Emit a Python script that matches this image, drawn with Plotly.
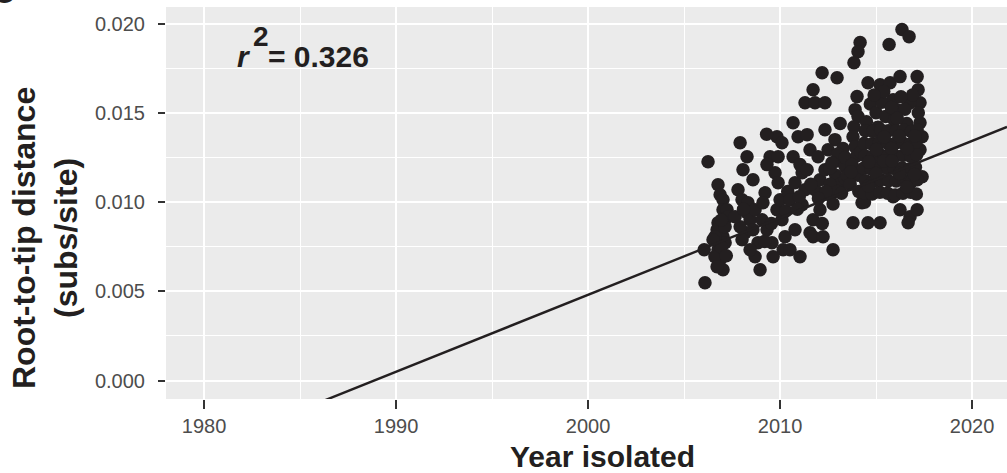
import plotly.graph_objects as go

# ---------------- data ----------------
year_isolated = [
    # 2006-2007 cluster
    2006.09, 2006.05, 2006.25, 2006.77, 2006.88, 2007.03, 2007.03, 2007.24, 2007.29, 2006.77,
    2006.72, 2007.03, 2007.14, 2006.77, 2006.88, 2007.03, 2006.61, 2006.61, 2006.93, 2006.72,
    2007.14, 2006.51, 2006.95, 2007.20,
    # 2008 cluster
    2007.92, 2008.28, 2008.07, 2008.59, 2007.81, 2008.02, 2008.33, 2008.28, 2008.44, 2008.18,
    2008.70, 2008.85, 2008.70, 2008.96, 2007.92, 2008.02, 2008.59, 2007.66, 2008.44, 2008.10,
    # 2009-2010 cluster
    2009.22, 2009.11, 2009.06, 2009.32, 2009.64, 2009.84, 2010.10, 2009.48, 2009.74, 2009.90,
    2009.84, 2010.10, 2010.26, 2010.16, 2009.32, 2009.30, 2009.90, 2010.52, 2009.58, 2010.00,
    2009.55, 2010.30, 2009.20, 2010.40,
    # 2010.5-2013.4
    2010.68, 2010.94, 2011.41, 2010.68, 2010.78, 2011.15, 2011.30, 2010.78, 2011.04, 2011.56,
    2011.30, 2011.72, 2011.82, 2012.34, 2012.19, 2012.97, 2011.72, 2012.24, 2011.72, 2012.08,
    2012.76, 2011.56, 2011.15, 2010.52, 2011.04, 2011.41, 2011.82, 2012.08, 2012.34, 2011.98,
    2012.34, 2012.86, 2012.50, 2012.60, 2012.90, 2012.97, 2012.76, 2013.13, 2013.28, 2013.39,
    2013.13, 2012.20, 2012.60, 2013.00, 2013.40, 2012.60, 2013.00, 2013.40, 2013.20, 2012.40,
    2011.60, 2011.00, 2010.90, 2012.00, 2012.70, 2013.50,
    # 2014 stripe
    2014.17, 2014.06, 2013.85, 2014.01, 2013.91, 2014.06, 2013.85, 2013.80, 2013.91, 2014.00,
    2013.75, 2014.06, 2013.65, 2014.27, 2013.80, 2014.58, 2014.10, 2013.70, 2014.20,
    # 2014.5-2017.5 upper / outer
    2015.68, 2016.35, 2016.72, 2014.58, 2015.21, 2015.73, 2016.25, 2017.14, 2017.19, 2017.29,
    2015.89, 2016.09, 2016.77, 2017.29, 2017.40, 2017.29, 2017.40, 2015.21, 2015.89, 2016.25,
    2016.77, 2017.14, 2016.67, 2014.50, 2014.70, 2015.00, 2015.30, 2015.50, 2016.50, 2016.90,
    2015.95, 2016.30, 2015.40, 2014.90, 2017.20, 2016.60, 2015.10, 2015.80, 2016.10, 2014.40,
    # dense core 2014.4-2017.1
    2014.40, 2014.80, 2015.20, 2015.60, 2016.00, 2016.40, 2016.80, 2017.10,
    2014.45, 2014.85, 2015.25, 2015.65, 2016.05, 2016.45, 2016.85, 2017.15,
    2014.35, 2014.75, 2015.15, 2015.55, 2015.95, 2016.35, 2016.75, 2017.05,
    2014.42, 2014.82, 2015.22, 2015.62, 2016.02, 2016.42, 2016.82, 2017.12,
    2014.38, 2014.78, 2015.18, 2015.58, 2015.98, 2016.38, 2016.78, 2017.08,
    2014.44, 2014.84, 2015.24, 2015.64, 2016.04, 2016.44, 2016.84, 2017.14,
    2014.60, 2015.00, 2015.40, 2015.80, 2016.20, 2016.60, 2017.00,
    2014.62, 2015.02, 2015.42, 2015.82, 2016.22, 2016.62, 2017.02,
]

root_to_tip = [
    # 2006-2007 cluster
    0.00548, 0.00733, 0.01226, 0.01097, 0.01041, 0.01013, 0.00957, 0.00957, 0.00918, 0.00884,
    0.00845, 0.00806, 0.00772, 0.00733, 0.00677, 0.00621, 0.00806, 0.00694, 0.00749, 0.00638,
    0.00862, 0.00789, 0.00900, 0.00700,
    # 2008 cluster
    0.01333, 0.01254, 0.01181, 0.01125, 0.01069, 0.01013, 0.00996, 0.00940, 0.00901, 0.00828,
    0.00957, 0.00772, 0.00694, 0.00621, 0.00862, 0.00789, 0.00845, 0.00918, 0.00733, 0.00960,
    # 2009-2010 cluster
    0.01052, 0.00996, 0.00901, 0.00845, 0.00694, 0.01366, 0.01333, 0.01254, 0.01165, 0.01109,
    0.00957, 0.00901, 0.00806, 0.00733, 0.01210, 0.01380, 0.01254, 0.00733, 0.00772, 0.01013,
    0.00880, 0.00950, 0.00780, 0.01060,
    # 2010.5-2013.4
    0.01445, 0.01366, 0.01378, 0.01254, 0.01109, 0.01165, 0.01069, 0.00845, 0.00694, 0.00828,
    0.01557, 0.01630, 0.01557, 0.01557, 0.01725, 0.01697, 0.00806, 0.00806, 0.00901, 0.00957,
    0.00733, 0.01293, 0.00985, 0.01013, 0.01210, 0.01181, 0.01069, 0.01125, 0.01181, 0.01254,
    0.01405, 0.01350, 0.01293, 0.01040, 0.01150, 0.01230, 0.00990, 0.01100, 0.01300, 0.01200,
    0.01440, 0.00880, 0.01100, 0.01060, 0.01130, 0.01190, 0.01270, 0.01250, 0.01050, 0.01060,
    0.01100, 0.01030, 0.00960, 0.01020, 0.01220, 0.01150,
    # 2014 stripe
    0.01894, 0.01843, 0.01781, 0.01591, 0.01518, 0.01480, 0.01422, 0.01366, 0.01310, 0.01260,
    0.01210, 0.01150, 0.01100, 0.00996, 0.00884, 0.00884, 0.01060, 0.01170, 0.01280,
    # 2014.5-2017.5 upper / outer
    0.01883, 0.01967, 0.01927, 0.01669, 0.01658, 0.01669, 0.01703, 0.01703, 0.01630, 0.01557,
    0.01574, 0.01518, 0.01557, 0.01445, 0.01366, 0.01293, 0.01142, 0.00884, 0.01030, 0.00957,
    0.00918, 0.00957, 0.00884, 0.01450, 0.01550, 0.01500, 0.01560, 0.01480, 0.01520, 0.01600,
    0.01460, 0.01590, 0.01620, 0.01600, 0.01500, 0.01440, 0.01420, 0.01530, 0.01470, 0.01000,
    # dense core 2014.4-2017.1
    0.01050, 0.01045, 0.01055, 0.01050, 0.01040, 0.01050, 0.01055, 0.01045,
    0.01120, 0.01115, 0.01125, 0.01120, 0.01118, 0.01122, 0.01115, 0.01125,
    0.01190, 0.01185, 0.01195, 0.01190, 0.01188, 0.01192, 0.01185, 0.01195,
    0.01260, 0.01255, 0.01265, 0.01260, 0.01258, 0.01262, 0.01255, 0.01265,
    0.01330, 0.01325, 0.01335, 0.01330, 0.01328, 0.01332, 0.01325, 0.01335,
    0.01400, 0.01395, 0.01405, 0.01400, 0.01398, 0.01402, 0.01395, 0.01405,
    0.01090, 0.01160, 0.01230, 0.01300, 0.01370, 0.01085, 0.01155,
    0.01225, 0.01295, 0.01365, 0.01230, 0.01160, 0.01300, 0.01370,
]

# regression line: slope (subs/site/yr) and root (x-intercept)
reg_slope = 0.000431
reg_root_year = 1988.85
r_squared_label = "0.326"

x_tick_vals = [1980, 1990, 2000, 2010, 2020]
y_tick_vals = [0.000, 0.005, 0.010, 0.015, 0.020]
x_range = [1978.02, 2021.82]
y_range = [-0.00103, 0.02093]

# ---------------- figure ----------------
W, H = 1007, 473
ML, MR, MT, MB = 166, 0, 7, 74
PW, PH = W - ML - MR, H - MT - MB


def px_x(px):
    return (px - ML) / PW


def px_y(py):
    return (H - MB - py) / PH


ink = "#231F20"
tick_grey = "#4D4D4D"
font_fam = "Liberation Sans, Arial, Helvetica, sans-serif"

fig = go.Figure()

line_x = list(x_range)
line_y = [reg_slope * (x - reg_root_year) for x in line_x]

fig.add_trace(go.Scatter(
    x=year_isolated, y=root_to_tip, mode="markers",
    marker=dict(size=13.5, color=ink, line=dict(width=0)),
    hoverinfo="x+y", showlegend=False,
))
fig.add_trace(go.Scatter(
    x=line_x, y=line_y, mode="lines",
    line=dict(color=ink, width=2.4), hoverinfo="skip", showlegend=False,
))

fig.update_layout(
    width=W, height=H,
    margin=dict(l=ML, r=MR, t=MT, b=MB, pad=0),
    paper_bgcolor="white", plot_bgcolor="#EBEBEB",
    font=dict(family=font_fam, color=tick_grey),
    showlegend=False,
)

fig.update_xaxes(
    range=x_range, tickvals=x_tick_vals,
    ticktext=[str(v) for v in x_tick_vals],
    ticks="outside", ticklen=9, tickwidth=1.8, tickcolor="#333333",
    tickfont=dict(size=20, color=tick_grey, family=font_fam),
    ticklabelstandoff=0,
    showgrid=True, gridcolor="white", gridwidth=2,
    minor=dict(dtick=5, tick0=1975, showgrid=True, gridcolor="white", gridwidth=1, ticks=""),
    zeroline=False, showline=False,
)
fig.update_yaxes(
    range=y_range, tickvals=y_tick_vals,
    ticktext=[f"{v:.3f}" for v in y_tick_vals],
    ticks="outside", ticklen=7, tickwidth=1.8, tickcolor="#333333",
    tickfont=dict(size=20, color=tick_grey, family=font_fam),
    ticklabelstandoff=9,
    showgrid=True, gridcolor="white", gridwidth=2,
    minor=dict(dtick=0.0025, tick0=0, showgrid=True, gridcolor="white", gridwidth=1, ticks=""),
    zeroline=False, showline=False,
)

# axis titles
fig.add_annotation(
    xref="paper", yref="paper", x=px_x(602), y=px_y(456),
    xanchor="center", yanchor="middle", showarrow=False,
    text="<b>Year isolated</b>", font=dict(size=30, color=ink, family=font_fam),
)
fig.add_annotation(
    xref="paper", yref="paper", x=px_x(45), y=px_y(238),
    xanchor="center", yanchor="middle", showarrow=False, textangle=-90,
    text="<b>Root-to-tip distance</b><br><b>(subs/site)</b>",
    font=dict(size=32, color=ink, family=font_fam),
)

# r^2 label
fig.add_annotation(
    xref="paper", yref="paper", x=px_x(235), y=px_y(56),
    xanchor="left", yanchor="middle", showarrow=False,
    text="<b><i>r</i></b>", font=dict(size=30, color=ink, family=font_fam),
)
fig.add_annotation(
    xref="paper", yref="paper", x=px_x(251), y=px_y(36),
    xanchor="left", yanchor="middle", showarrow=False,
    text="<b>2</b>", font=dict(size=28, color=ink, family=font_fam),
)
fig.add_annotation(
    xref="paper", yref="paper", x=px_x(266), y=px_y(56),
    xanchor="left", yanchor="middle", showarrow=False,
    text="<b>= " + r_squared_label + "</b>", font=dict(size=30, color=ink, family=font_fam),
)

# clipped panel letter at the top-left corner
fig.add_annotation(
    xref="paper", yref="paper", x=px_x(4), y=px_y(-8),
    xanchor="center", yanchor="middle", showarrow=False,
    text="<b>C</b>", font=dict(size=30, color=ink, family=font_fam),
)

fig.write_html("out.html")
